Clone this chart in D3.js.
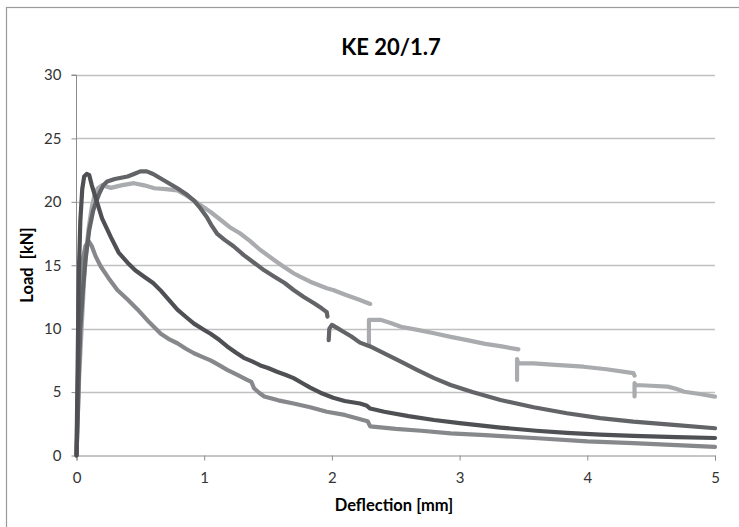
<!DOCTYPE html>
<html><head><meta charset="utf-8">
<script src="https://cdn.jsdelivr.net/npm/d3@7/dist/d3.min.js"></script>
<style>body{margin:0;background:#fff;}svg{display:block;font-family:Lato,"Open Sans",sans-serif;}</style>
</head><body>
<svg id="c" width="739" height="527"></svg>
<script>
const title = "KE 20/1.7";
const xLabel = "Deflection [mm]";
const yLabel = "Load\u00a0\u00a0[kN]";
const xTicks = [0,1,2,3,4,5];
const yTicks = [0,5,10,15,20,25,30];

const seriesA = [[0,0],[0.005,4],[0.01,8],[0.015,12],[0.02,15],[0.03,18.5],[0.045,21],[0.06,22],[0.08,22.2],[0.1,22.1],[0.12,21.3],[0.16,20.0],[0.2,18.7],[0.27,17.2],[0.33,16],[0.4,15.2],[0.46,14.6],[0.53,14.1],[0.6,13.6],[0.66,13.0],[0.72,12.3],[0.79,11.5],[0.86,10.9],[0.92,10.4],[1.0,9.9],[1.05,9.6],[1.12,9.1],[1.18,8.6],[1.25,8.1],[1.31,7.7],[1.38,7.4],[1.44,7.1],[1.5,6.9],[1.57,6.6],[1.64,6.35],[1.7,6.1],[1.77,5.7],[1.83,5.35],[1.91,4.95],[2.01,4.55],[2.1,4.3],[2.22,4.1],[2.27,3.95],[2.3,3.7],[2.41,3.45],[2.6,3.1],[2.8,2.8],[3.0,2.55],[3.32,2.2],[3.6,1.95],[3.84,1.78],[4.1,1.65],[4.36,1.55],[4.7,1.45],[5.0,1.38]];

const seriesB = [[0,0],[0.01,5],[0.02,11],[0.03,13.5],[0.05,15.5],[0.07,16.5],[0.095,16.9],[0.12,16.5],[0.15,15.7],[0.19,14.9],[0.25,14.0],[0.32,13.05],[0.4,12.3],[0.48,11.5],[0.57,10.5],[0.66,9.6],[0.72,9.2],[0.79,8.85],[0.86,8.4],[0.92,8.06],[0.98,7.8],[1.05,7.5],[1.12,7.1],[1.18,6.75],[1.26,6.35],[1.34,5.95],[1.37,5.8],[1.39,5.3],[1.43,4.95],[1.47,4.65],[1.58,4.35],[1.7,4.1],[1.83,3.8],[1.96,3.45],[2.1,3.2],[2.28,2.7],[2.3,2.3],[2.5,2.1],[2.7,1.95],[2.93,1.75],[3.2,1.6],[3.58,1.38],[4.0,1.12],[4.36,0.98],[4.7,0.82],[5.0,0.68]];

const seriesC = [[0,0],[0.01,3],[0.02,7],[0.03,10],[0.05,13],[0.07,15.4],[0.1,17.8],[0.13,19.3],[0.15,19.9],[0.18,20.7],[0.21,21.3],[0.24,21.6],[0.3,21.8],[0.35,21.9],[0.4,22.0],[0.45,22.2],[0.5,22.4],[0.55,22.4],[0.6,22.2],[0.65,21.9],[0.7,21.6],[0.79,21.07],[0.86,20.6],[0.92,20.1],[0.97,19.5],[1.02,18.8],[1.06,18.1],[1.1,17.5],[1.16,17.0],[1.23,16.5],[1.31,15.8],[1.39,15.2],[1.47,14.6],[1.55,14.1],[1.63,13.6],[1.7,13.05],[1.78,12.5],[1.86,12.0],[1.92,11.6],[1.96,11.3],[1.965,10.95],null,[1.975,9.1],[1.98,10.0],[2.0,10.3],[2.05,10.0],[2.09,9.76],[2.15,9.4],[2.22,8.9],[2.3,8.6],[2.41,8.06],[2.54,7.4],[2.67,6.74],[2.8,6.1],[2.93,5.56],[3.1,5.0],[3.32,4.38],[3.58,3.8],[3.84,3.33],[4.1,2.95],[4.36,2.67],[4.7,2.4],[5.0,2.15]];

const seriesD = [[0,0],[0.01,3],[0.02,6],[0.04,10],[0.06,14],[0.08,16.5],[0.096,18],[0.12,19.6],[0.145,20.7],[0.17,21.1],[0.2,21.3],[0.27,21.1],[0.35,21.3],[0.45,21.47],[0.53,21.3],[0.61,21.07],[0.7,21.0],[0.79,20.9],[0.86,20.5],[0.92,20.1],[0.97,19.76],[1.05,19.2],[1.13,18.57],[1.2,18.0],[1.28,17.52],[1.36,16.9],[1.44,16.2],[1.55,15.4],[1.62,14.9],[1.7,14.37],[1.75,14.1],[1.83,13.7],[1.96,13.19],[2.01,13.05],[2.1,12.7],[2.22,12.26],[2.3,11.95],null,[2.29,8.8],[2.29,10.7],[2.38,10.7],[2.46,10.45],[2.54,10.15],[2.67,9.9],[2.8,9.64],[2.93,9.35],[3.06,9.1],[3.2,8.8],[3.33,8.6],[3.46,8.37],null,[3.45,5.95],[3.45,7.6],[3.46,7.27],[3.58,7.27],[3.75,7.15],[3.97,7.0],[4.15,6.8],[4.36,6.5],[4.37,6.3],null,[4.37,4.65],[4.37,5.7],[4.38,5.56],[4.5,5.5],[4.63,5.43],[4.7,5.25],[4.76,5.03],[4.88,4.85],[5.0,4.64]];

const series = [
  {data: seriesD, color: "#a9abae"},
  {data: seriesB, color: "#87888b"},
  {data: seriesC, color: "#626467"},
  {data: seriesA, color: "#4e5054"}
];

const svg = d3.select("#c");
svg.append("rect").attr("x",6.5).attr("y",7.5).attr("width",740).attr("height",530)
  .attr("fill","none").attr("stroke","#9a9a9a").attr("stroke-width",1.2);

const x = d3.scaleLinear().domain([0,5]).range([76.5,715]);
const y = d3.scaleLinear().domain([0,30]).range([455.5,75]);

svg.append("g").selectAll("line").data(yTicks.filter(d=>d>0)).join("line")
  .attr("x1",x(0)).attr("x2",x(5)).attr("y1",d=>Math.round(y(d))+0.5).attr("y2",d=>Math.round(y(d))+0.5)
  .attr("stroke","#c0c0c0").attr("stroke-width",1.3);

const yAxis = d3.axisLeft(y).tickValues(yTicks).tickSize(5).tickPadding(10).tickFormat(d3.format("d"));
const gy = svg.append("g").attr("transform",`translate(${x(0)},0)`).call(yAxis);
const xAxis = d3.axisBottom(x).tickValues(xTicks).tickSize(5).tickPadding(12).tickFormat(d3.format("d"));
const gx = svg.append("g").attr("transform",`translate(0,${y(0)})`).call(xAxis);
[gx,gy].forEach(g=>{
  g.select(".domain").attr("stroke","#8c8c8c");
  g.selectAll(".tick line").attr("stroke","#8c8c8c");
  g.selectAll("text").attr("fill","#333").style("font-size","15px").style("font-family","Lato,'Open Sans',sans-serif");
});
gy.select(".domain").attr("d",`M-5,${y(30)}H0V${y(0)}`);

const line = d3.line().defined(d=>d!==null).x(d=>x(d[0])).y(d=>y(d[1]));
svg.append("g").selectAll("path").data(series).join("path")
  .attr("d",d=>line(d.data)).attr("fill","none").attr("stroke",d=>d.color)
  .attr("stroke-width",4.2).attr("stroke-linejoin","round").attr("stroke-linecap","round");

svg.append("text").attr("x",391).attr("y",55).attr("text-anchor","middle")
  .style("font-size","22px").style("font-weight","bold").attr("fill","#000").text(title);
svg.append("text").attr("x",394).attr("y",511).attr("text-anchor","middle")
  .style("font-size","16.5px").style("font-weight","bold").attr("fill","#000").text(xLabel);
svg.append("text").attr("transform","translate(33,265) rotate(-90)").attr("text-anchor","middle")
  .style("font-size","16.5px").style("font-weight","bold").attr("fill","#000").text(yLabel);
</script>
</body></html>
